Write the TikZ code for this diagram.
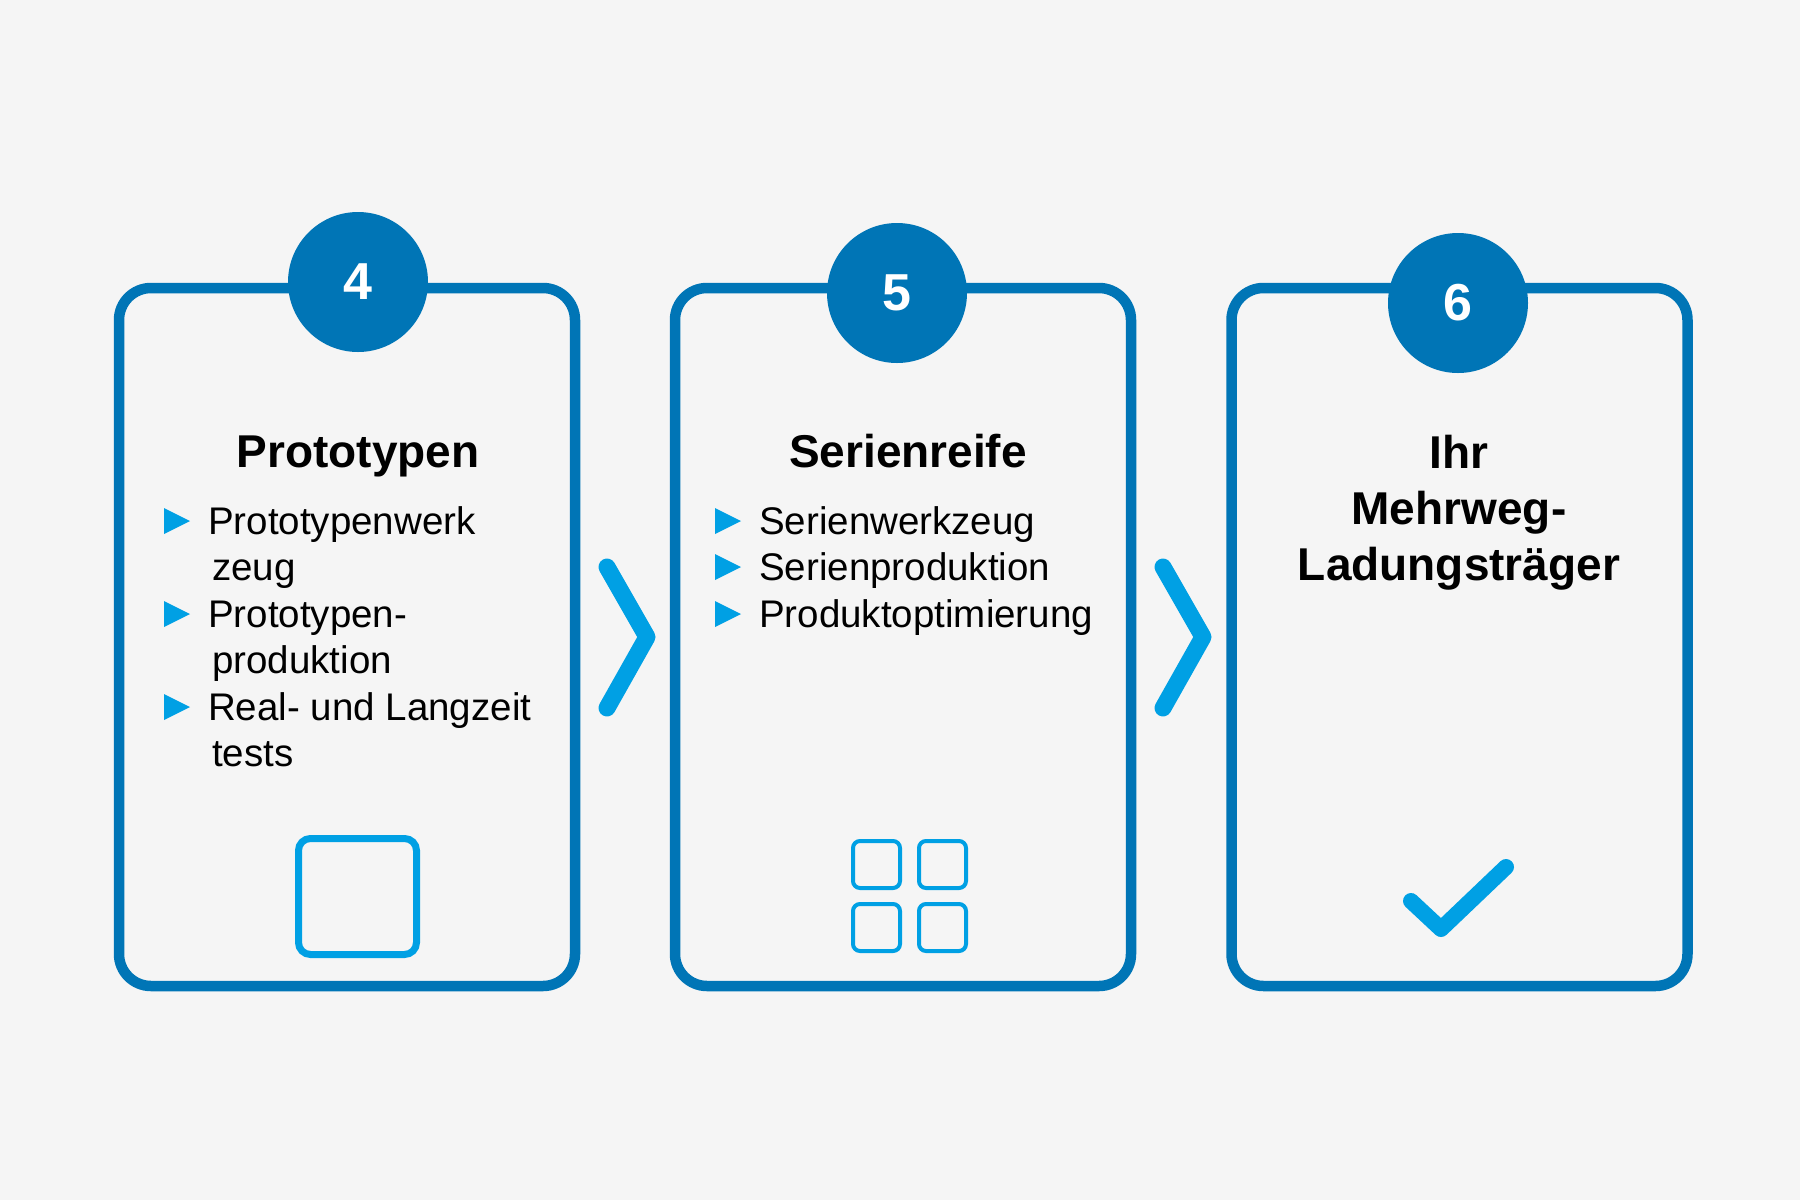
\documentclass[tikz,border=0pt]{standalone}
\usepackage{fontspec}
\setmainfont{Liberation Sans}
\definecolor{bg}{HTML}{F5F5F5}
\definecolor{dblue}{HTML}{0075B6}
\definecolor{lblue}{HTML}{00A0E4}
\begin{document}
\begin{tikzpicture}[x=1pt,y=-1pt,
  card/.style={draw=dblue,line width=10.5pt,rounded corners=32pt,minimum width=456pt,minimum height=698pt,inner sep=0pt},
  numcirc/.style={circle,fill=dblue,minimum size=140pt,inner sep=0pt,text=white,font=\fontsize{52}{52}\selectfont\bfseries},
  ttl/.style={anchor=base,font=\fontsize{46}{50}\selectfont\bfseries,inner sep=0pt},
  itm/.style={anchor=base west,font=\fontsize{38.5}{42}\selectfont,inner sep=0pt},
  bul/.style={fill=lblue},
  chev/.style={draw=lblue,line width=17pt,line cap=round,line join=round},
  icobig/.style={draw=lblue,line width=7pt,rounded corners=12pt},
  icosmall/.style={draw=lblue,line width=4pt,rounded corners=7pt},
  checkmark/.style={draw=lblue,line width=16pt,line cap=round,line join=round}]
\fill[bg] (0,0) rectangle (1800,1200);
\useasboundingbox (0,0) rectangle (1800,1200);

% cards
\node[card] (c1) at (347,637) {};
\node[card] (c2) at (903,637) {};
\node[card] (c3) at (1459.5,637) {};

% number circles
\node[numcirc] (n4) at (358,282) {4};
\node[numcirc] (n5) at (897,293) {5};
\node[numcirc] (n6) at (1458,303) {6};

% titles
\node[ttl] (t1) at (358,467) {Prototypen};
\node[ttl] (t2) at (908,467) {Serienreife};
\node[ttl] (t3a) at (1459,468) {Ihr};
\node[ttl] (t3b) at (1459,524) {Mehrweg-};
\node[ttl] (t3c) at (1459,580) {Ladungsträger};

% bullets card 1
\foreach \b in {534,627,720} {
  \fill[bul] (164,\b-26) -- (190,\b-13) -- (164,\b) -- cycle;
}
\node[itm] (a1) at (208,534) {Prototypenwerk};
\node[itm] (a2) at (212,580) {zeug};
\node[itm] (a3) at (208,627) {Prototypen-};
\node[itm] (a4) at (212,673) {produktion};
\node[itm] (a5) at (208,720) {Real- und Langzeit};
\node[itm] (a6) at (212,766) {tests};

% bullets card 2
\foreach \b in {534,580,627} {
  \fill[bul] (715,\b-26) -- (741,\b-13) -- (715,\b) -- cycle;
}
\node[itm] (b1) at (759,534) {Serienwerkzeug};
\node[itm] (b2) at (759,580) {Serienproduktion};
\node[itm] (b3) at (759,627) {Produktoptimierung};

% chevrons
\draw[chev] (607,567) -- (647,637) -- (607,708);
\draw[chev] (1163,567) -- (1203,637) -- (1163,708);

% icons
\draw[icobig] (298.5,838.5) rectangle (416.5,954.5);
\draw[icosmall] (853,841) rectangle (900,888);
\draw[icosmall] (919,841) rectangle (966,888);
\draw[icosmall] (853,904) rectangle (900,951);
\draw[icosmall] (919,904) rectangle (966,951);
\draw[checkmark] (1411,901) -- (1441,929) -- (1506,867);
\end{tikzpicture}
\end{document}
